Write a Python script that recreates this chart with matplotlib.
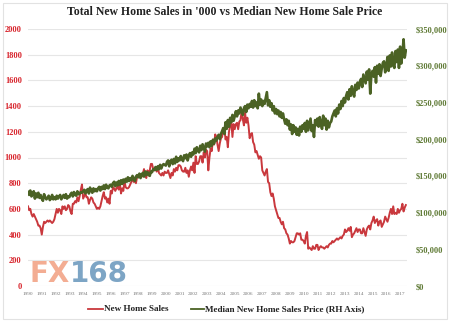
import numpy as np
import matplotlib
matplotlib.use("Agg")
import matplotlib.pyplot as plt

# ---------------- data (monthly, Jan 1990 - Jun 2017) ----------------
start_year = 1990
years = list(range(1990, 2018))
year_labels = [str(y) for y in years]

sales = [
    620, 590, 600, 560, 540, 560, 540, 520, 500, 470, 470, 450,   # 1990
    400, 460, 500, 490, 500, 510, 500, 510, 500, 490, 500, 520,   # 1991
    560, 600, 570, 600, 590, 560, 620, 600, 620, 590, 600, 630,   # 1992
    620, 580, 560, 640, 640, 660, 650, 690, 660, 700, 750, 790,   # 1993
    680, 700, 720, 690, 690, 640, 670, 690, 680, 650, 640, 620,   # 1994
    600, 610, 600, 620, 660, 700, 730, 680, 690, 650, 680, 640,   # 1995
    740, 720, 770, 760, 740, 760, 780, 750, 800, 720, 760, 740,   # 1996
    820, 770, 760, 760, 770, 790, 810, 840, 810, 820, 800, 850,   # 1997
    860, 850, 860, 850, 870, 910, 860, 840, 900, 860, 900, 950,   # 1998
    950, 910, 900, 920, 890, 930, 880, 870, 860, 880, 860, 890,   # 1999
    880, 880, 900, 870, 840, 880, 860, 910, 890, 920, 900, 940,   # 2000
    940, 930, 900, 890, 890, 920, 880, 900, 850, 900, 930, 900,   # 2001
    960, 880, 1010, 950, 950, 970, 1010, 1010, 960, 1040, 1000, 1060,  # 2002
    1050, 900, 1000, 1070, 1050, 1140, 1100, 1180, 1160, 1100, 1050, 1110,  # 2003
    1150, 1160, 1230, 1230, 1140, 1160, 1080, 1200, 1250, 1280, 1160, 1260,  # 2004
    1220, 1260, 1270, 1220, 1280, 1290, 1360, 1300, 1250, 1350, 1270, 1310,  # 2005
    1250, 1150, 1180, 1190, 1120, 1100, 1040, 1050, 1020, 990, 1010, 1000,  # 2006
    900, 880, 860, 890, 910, 810, 800, 730, 700, 720, 680, 620,   # 2007
    590, 560, 530, 530, 500, 480, 500, 450, 440, 410, 400, 370,   # 2008
    330, 350, 340, 340, 350, 380, 410, 410, 400, 410, 360, 360,   # 2009
    350, 330, 390, 420, 290, 300, 290, 280, 310, 290, 290, 320,   # 2010
    320, 280, 300, 310, 300, 300, 290, 300, 310, 300, 320, 330,   # 2011
    330, 350, 340, 350, 360, 370, 360, 370, 380, 370, 390, 400,   # 2012
    440, 420, 430, 450, 430, 460, 380, 400, 410, 430, 450, 420,   # 2013
    440, 440, 410, 410, 450, 420, 390, 440, 460, 470, 440, 490,   # 2014
    510, 540, 490, 510, 520, 470, 500, 510, 460, 480, 500, 540,   # 2015
    520, 500, 530, 570, 600, 560, 620, 560, 570, 560, 600, 570,   # 2016
    590, 600, 640, 580, 610, 630,                                 # 2017
]

price = [
    128000, 124000, 130000, 122000, 125000, 129000, 119000, 126000, 121000, 127000, 120000, 124000,  # 1990
    119000, 116000, 125000, 121000, 118000, 120000, 123000, 117000, 119000, 124000, 118000, 121000,  # 1991
    118000, 123000, 119000, 122000, 124000, 118000, 121000, 124000, 120000, 125000, 119000, 122000,  # 1992
    121000, 125000, 127000, 122000, 128000, 124000, 123000, 129000, 125000, 126000, 128000, 127000,  # 1993
    129000, 131000, 126000, 130000, 132000, 126000, 134000, 130000, 127000, 133000, 129000, 132000,  # 1994
    129000, 133000, 135000, 130000, 135000, 132000, 137000, 132000, 138000, 134000, 133000, 137000,  # 1995
    138000, 135000, 140000, 142000, 136000, 141000, 137000, 143000, 138000, 144000, 139000, 145000,  # 1996
    141000, 146000, 142000, 148000, 143000, 147000, 144000, 150000, 146000, 143000, 149000, 151000,  # 1997
    148000, 153000, 147000, 152000, 154000, 149000, 156000, 151000, 155000, 152000, 150000, 156000,  # 1998
    155000, 159000, 158000, 162000, 158000, 163000, 159000, 165000, 160000, 164000, 166000, 165000,  # 1999
    164000, 169000, 171000, 163000, 170000, 172000, 166000, 173000, 167000, 176000, 169000, 174000,  # 2000
    171000, 177000, 173000, 170000, 178000, 174000, 179000, 171000, 177000, 181000, 176000, 182000,  # 2001
    179000, 187000, 181000, 189000, 184000, 182000, 191000, 185000, 193000, 188000, 183000, 194000,  # 2002
    190000, 195000, 189000, 197000, 191000, 199000, 194000, 201000, 198000, 203000, 206000, 200000,  # 2003
    207000, 211000, 215000, 207000, 223000, 214000, 226000, 217000, 229000, 223000, 233000, 225000,  # 2004
    231000, 238000, 231000, 239000, 235000, 243000, 238000, 233000, 242000, 245000, 237000, 247000,  # 2005
    242000, 248000, 244000, 252000, 243000, 253000, 245000, 250000, 242000, 262000, 247000, 254000,  # 2006
    245000, 252000, 248000, 256000, 264000, 246000, 253000, 244000, 249000, 239000, 245000, 235000,  # 2007
    241000, 234000, 239000, 231000, 237000, 229000, 235000, 227000, 221000, 227000, 219000, 225000,  # 2008
    213000, 220000, 207000, 219000, 210000, 216000, 206000, 214000, 205000, 217000, 210000, 219000,  # 2009
    214000, 222000, 210000, 225000, 212000, 220000, 228000, 211000, 219000, 203000, 226000, 219000,  # 2010
    228000, 217000, 230000, 221000, 214000, 232000, 219000, 228000, 213000, 225000, 216000, 222000,  # 2011
    224000, 231000, 235000, 239000, 231000, 242000, 235000, 247000, 241000, 252000, 245000, 256000,  # 2012
    250000, 259000, 264000, 254000, 268000, 259000, 272000, 263000, 258000, 274000, 267000, 277000,  # 2013
    269000, 278000, 282000, 271000, 288000, 282000, 276000, 292000, 281000, 295000, 262000, 289000,  # 2014
    293000, 285000, 298000, 277000, 300000, 289000, 302000, 286000, 296000, 304000, 306000, 291000,  # 2015
    299000, 312000, 293000, 314000, 299000, 318000, 301000, 297000, 320000, 305000, 322000, 297000,  # 2016
    326000, 303000, 316000, 336000, 311000, 321000,                                                  # 2017
]

left_ticks = [0, 200, 400, 600, 800, 1000, 1200, 1400, 1600, 1800, 2000]
right_ticks = [0, 50000, 100000, 150000, 200000, 250000, 300000, 350000]

series_names = ["New Home Sales", "Median New Home Sales Price (RH Axis)"]
title = "Total New Home Sales in '000 vs Median New Home Sale Price"

# ---------------- styling ----------------
RED = "#c9383d"
GREEN = "#4b6224"
LRED = "#d8242c"
LGREEN = "#5f7a35"
W, H = 450, 321

fig = plt.figure(figsize=(W / 100, H / 100), dpi=100)
fig.patch.set_facecolor("white")

# outer faint border
fig.add_artist(plt.Rectangle((3 / W, 2 / H), 444 / W, 316 / H, transform=fig.transFigure,
                             fill=False, edgecolor="#e2e2e2", lw=0.8))

ax_l, ax_r, ax_t, ax_b = 28, 407, 29, 286
ax = fig.add_axes([ax_l / W, 1 - ax_b / H, (ax_r - ax_l) / W, (ax_b - ax_t) / H])
ax2 = ax.twinx()

t_sales = start_year + np.arange(len(sales)) / 12.0
t_price = start_year + np.arange(len(price)) / 12.0

ax.plot(t_sales, sales, color=RED, lw=1.4, solid_joinstyle="round", zorder=3)
ax2.plot(t_price, price, color=GREEN, lw=1.9, solid_joinstyle="round", zorder=3)

ax.set_xlim(1990, 2017.5)
ax.set_ylim(0, 2000)
ax2.set_ylim(0, 350000)

for a in (ax, ax2):
    for s in a.spines.values():
        s.set_visible(False)

ax.set_yticks(left_ticks)
ax.set_yticklabels([str(v) for v in left_ticks], color=LRED, fontsize=6,
                   family="Liberation Serif", fontweight="bold")
ax.grid(axis="y", color="#e6e6e6", lw=0.8)
ax.set_axisbelow(True)
ax.tick_params(axis="y", length=0, pad=4.5)

ax2.set_yticks(right_ticks)
ax2.set_yticklabels(["$" + f"{v:,}" for v in right_ticks], color=LGREEN, fontsize=6,
                    family="Liberation Serif", fontweight="bold")
ax2.tick_params(axis="y", length=0, pad=6)

ax.set_xticks(years)
ax.set_xticklabels(year_labels, fontsize=3.8, color="#777777", family="Liberation Serif")
ax.tick_params(axis="x", length=0, pad=4)

fig.text(0.5, 1 - 12 / H, title, ha="center", va="center", fontsize=8.5,
         family="Liberation Serif", fontweight="bold", color="#222222")

# legend
ly = 1 - 309 / H
fig.add_artist(plt.Line2D([88 / W, 103 / W], [ly, ly], transform=fig.transFigure, color=RED, lw=1.3))
fig.text(104 / W, ly, series_names[0], ha="left", va="center", fontsize=6.6,
         family="Liberation Serif", fontweight="bold", color="#222222")
fig.add_artist(plt.Line2D([191 / W, 204 / W], [ly, ly], transform=fig.transFigure, color=GREEN, lw=1.3))
fig.text(205 / W, ly, series_names[1], ha="left", va="center", fontsize=6.6,
         family="Liberation Serif", fontweight="bold", color="#222222")

# watermark (FX168)
wy = 1 - 274 / H
fig.text(29 / W, wy, "FX", ha="left", va="center", fontsize=20, fontweight="bold",
         family="DejaVu Sans", color="#f2a487", alpha=0.9)
fig.text(70 / W, wy, "168", ha="left", va="center", fontsize=20, fontweight="bold",
         family="DejaVu Sans", color="#6f9bbf", alpha=0.9)

fig.savefig("out.png", dpi=100, facecolor="white")
